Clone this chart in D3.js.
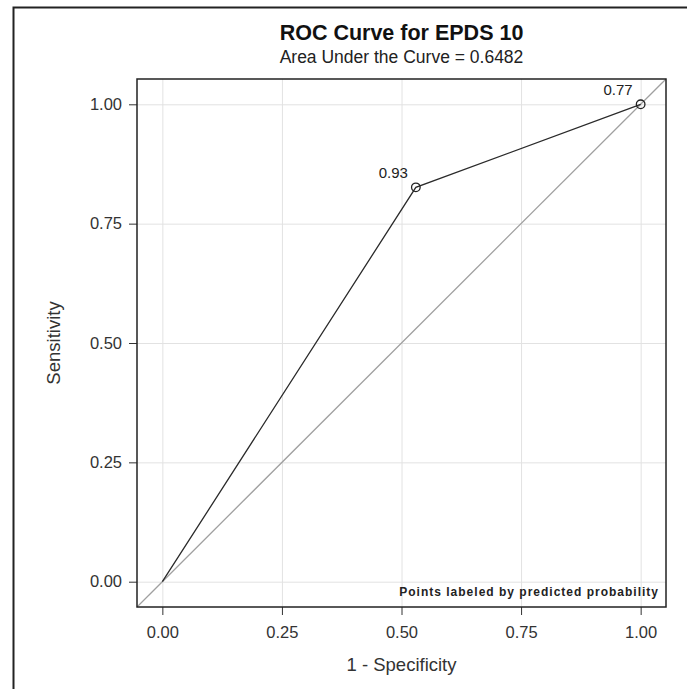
<!DOCTYPE html>
<html>
  <head>
    <meta charset="utf-8">
    <title>ROC Curve for EPDS 10</title>
    <script src="https://cdn.jsdelivr.net/npm/d3@7"></script>
    <style>
      body { margin: 0; background: #fff; font-family: "Liberation Sans", Arial, sans-serif; }
      #chart { display: block; }
      .tick text { font-size: 16.5px; fill: #333; font-family: "Liberation Sans", Arial, sans-serif; }
      .tick line { stroke: #333; }
      .grid line { stroke: #e2e2e2; }
      .grid .domain { display: none; }
    </style>
  </head>

  <body>
    <svg id="chart" width="687" height="689"></svg>

    <script>
      // data
      const fpr = [0, 0.53, 1];            // 1 - specificity
      const tpr = [0, 0.826, 1];           // sensitivity
      const probLabels = ["", "0.93", "0.77"];
      const tickValues = [0, 0.25, 0.5, 0.75, 1];
      const title = "ROC Curve for EPDS 10";
      const subtitle = "Area Under the Curve = 0.6482";

      const points = fpr.map((d, i) => ({ x: d, y: tpr[i], label: probLabels[i] }));

      chart = d3.select("#chart");

      // outer border (runs off the picture right and bottom)
      chart.append("rect")
        .attr("x", 13.5).attr("y", 7.5)
        .attr("width", 700).attr("height", 700)
        .attr("fill", "none")
        .attr("stroke", "#222")
        .attr("stroke-width", 2);

      margin = { top: 79, right: 21, bottom: 82, left: 137 };
      width = 687 - margin.left - margin.right;
      height = 689 - margin.top - margin.bottom;
      pad = 0.053;

      x = d3.scaleLinear().domain([-pad, 1 + pad]).range([margin.left, margin.left + width]);
      y = d3.scaleLinear().domain([-pad, 1 + pad]).range([margin.top + height, margin.top]);

      // grid
      chart.append("g")
        .attr("class", "grid")
        .attr("transform", "translate(0," + (margin.top + height) + ")")
        .call(d3.axisBottom(x).tickValues(tickValues).tickSize(-height).tickFormat(""));
      chart.append("g")
        .attr("class", "grid")
        .attr("transform", "translate(" + margin.left + ",0)")
        .call(d3.axisLeft(y).tickValues(tickValues).tickSize(-width).tickFormat(""));

      // reference diagonal
      chart.append("line")
        .attr("x1", x(-pad)).attr("y1", y(-pad))
        .attr("x2", x(1 + pad)).attr("y2", y(1 + pad))
        .attr("stroke", "#a0a0a0")
        .attr("stroke-width", 1.3);

      // roc curve
      line = d3.line().x(d => x(d.x)).y(d => y(d.y));
      chart.append("path")
        .datum(points)
        .attr("d", line)
        .attr("fill", "none")
        .attr("stroke", "#2a2a2a")
        .attr("stroke-width", 1.3);

      labelled = points.filter(d => d.label);
      chart.selectAll(".marker")
        .data(labelled)
        .join("circle")
          .attr("class", "marker")
          .attr("cx", d => x(d.x))
          .attr("cy", d => y(d.y))
          .attr("r", 4.3)
          .attr("fill", "none")
          .attr("stroke", "#222")
          .attr("stroke-width", 1.3);

      chart.selectAll(".plabel")
        .data(labelled)
        .join("text")
          .attr("class", "plabel")
          .attr("x", d => x(d.x) - 8)
          .attr("y", d => y(d.y) - 9)
          .attr("text-anchor", "end")
          .attr("font-size", 15)
          .attr("fill", "#222")
          .text(d => d.label);

      // axes
      xAxis = chart.append("g")
        .attr("transform", "translate(0," + (margin.top + height) + ")")
        .call(d3.axisBottom(x).tickValues(tickValues).tickFormat(d3.format(".2f")).tickSizeInner(8).tickSizeOuter(0).tickPadding(11));
      yAxis = chart.append("g")
        .attr("transform", "translate(" + margin.left + ",0)")
        .call(d3.axisLeft(y).tickValues(tickValues).tickFormat(d3.format(".2f")).tickSizeInner(8).tickSizeOuter(0).tickPadding(7));
      [xAxis, yAxis].forEach(a => a.select(".domain").remove());

      // frame
      chart.append("rect")
        .attr("x", margin.left).attr("y", margin.top)
        .attr("width", width).attr("height", height)
        .attr("fill", "none")
        .attr("stroke", "#222")
        .attr("stroke-width", 1.5);

      // inset note
      chart.append("text")
        .attr("x", margin.left + width - 7)
        .attr("y", margin.top + height - 11)
        .attr("text-anchor", "end")
        .attr("font-size", 12)
        .attr("font-weight", "bold")
        .attr("letter-spacing", "1px")
        .attr("fill", "#222")
        .text("Points labeled by predicted probability");

      // titles
      cx = margin.left + width / 2;
      chart.append("text")
        .attr("x", cx).attr("y", 40)
        .attr("text-anchor", "middle")
        .attr("font-size", 21.5)
        .attr("font-weight", "bold")
        .attr("fill", "#111")
        .text(title);
      chart.append("text")
        .attr("x", cx).attr("y", 63)
        .attr("text-anchor", "middle")
        .attr("font-size", 17.5)
        .attr("fill", "#222")
        .text(subtitle);

      chart.append("text")
        .attr("x", cx).attr("y", 671)
        .attr("text-anchor", "middle")
        .attr("font-size", 18.5)
        .attr("fill", "#333")
        .text("1 - Specificity");
      chart.append("text")
        .attr("transform", "translate(60," + y(0.5) + ") rotate(-90)")
        .attr("text-anchor", "middle")
        .attr("font-size", 18.5)
        .attr("fill", "#333")
        .text("Sensitivity");
    </script>
  </body>
</html>
